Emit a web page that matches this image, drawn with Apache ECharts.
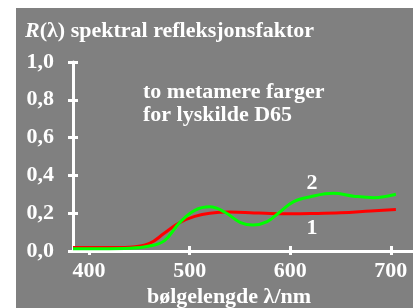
<!DOCTYPE html>
<html>
<head>
<meta charset="utf-8">
<script src="https://cdn.jsdelivr.net/npm/echarts@6/dist/echarts.min.js"></script>
<style>
  html, body { margin: 0; padding: 0; background: #fff; }
  #main { position: absolute; left: 16px; top: 8px; width: 397px; height: 300px; background: #808080; }
</style>
</head>
<body>
<div id="main"></div>
<script>
// wavelength ticks (nm) and reflectance ticks
const xTicks = [400, 500, 600, 700];
const yTicks = [0, 0.2, 0.4, 0.6, 0.8, 1.0];

// curve 1 (red): [wavelength, R]
const curve1 = [
  [384, 0.018], [420, 0.018], [440, 0.02], [460, 0.04], [475, 0.095],
  [490, 0.15], [505, 0.183], [520, 0.2], [540, 0.206], [560, 0.203],
  [580, 0.198], [600, 0.197], [620, 0.198], [650, 0.202], [680, 0.212],
  [705, 0.22]
];
// curve 2 (green)
const curve2 = [
  [384, 0.012], [420, 0.012], [440, 0.014], [460, 0.026], [475, 0.055],
  [490, 0.15], [505, 0.215], [520, 0.234], [535, 0.205], [550, 0.152],
  [563, 0.137], [577, 0.155], [590, 0.208], [603, 0.26], [620, 0.287],
  [643, 0.305], [663, 0.29], [683, 0.282], [705, 0.3]
];

const font = "Liberation Serif";
const white = "#ffffff";
const fs = 22;

let chart = echarts.init(document.getElementById("main"));
let option = {
  animation: false,
  title: {
    left: 4,
    top: 7,
    text: "{i|R}(λ) spektral refleksjonsfaktor",
    textStyle: {
      color: white, fontFamily: font, fontWeight: "bold", fontSize: fs,
      rich: {
        i: { color: white, fontFamily: font, fontWeight: "bold", fontStyle: "italic", fontSize: fs }
      }
    }
  },
  grid: { left: 57, top: 54, right: 0, bottom: 57 },
  xAxis: [
    {
      type: "value", min: 384, max: 722,
      axisLine: { lineStyle: { color: white, width: 3 } },
      splitLine: { show: false },
      axisTick: { customValues: xTicks, inside: true, length: 5, lineStyle: { color: white, width: 3 } },
      axisLabel: {
        customValues: xTicks, margin: 9, color: white,
        fontFamily: font, fontWeight: "bold", fontSize: fs
      }
    },
    {
      type: "value", min: 384, max: 722, position: "bottom",
      axisLine: { show: false },
      splitLine: { show: false },
      axisTick: { customValues: xTicks, inside: false, length: 4, lineStyle: { color: white, width: 3 } },
      axisLabel: { show: false }
    }
  ],
  yAxis: [
    {
      type: "value", min: 0, max: 1,
      axisLine: { show: true, lineStyle: { color: white, width: 3 } },
      splitLine: { show: false },
      axisTick: { customValues: yTicks, inside: true, length: 5, lineStyle: { color: white, width: 3 } },
      axisLabel: {
        customValues: yTicks, margin: 19, color: white,
        fontFamily: font, fontWeight: "bold", fontSize: fs,
        formatter: function (v) { return v.toFixed(1).replace(".", ","); }
      }
    },
    {
      type: "value", min: 0, max: 1, position: "left",
      axisLine: { show: false },
      splitLine: { show: false },
      axisTick: { show: true, customValues: yTicks, inside: false, length: 5, lineStyle: { color: white, width: 3 } },
      axisLabel: { show: false }
    }
  ],
  graphic: [
    {
      type: "text", x: 127, y: 84,
      style: { text: "to metamere farger", fill: white, font: "bold " + fs + "px " + font, verticalAlign: "middle" }
    },
    {
      type: "text", x: 127, y: 107,
      style: { text: "for lyskilde D65", fill: white, font: "bold " + fs + "px " + font, verticalAlign: "middle" }
    },
    {
      type: "text", x: 213, y: 289,
      style: { text: "bølgelengde λ/nm", fill: white, font: "bold " + fs + "px " + font, align: "center", verticalAlign: "middle" }
    },
    {
      type: "text", x: 296, y: 175,
      style: { text: "2", fill: white, font: "bold " + fs + "px " + font, align: "center", verticalAlign: "middle" }
    },
    {
      type: "text", x: 296, y: 220,
      style: { text: "1", fill: white, font: "bold " + fs + "px " + font, align: "center", verticalAlign: "middle" }
    }
  ],
  series: [
    {
      type: "line", data: curve1, smooth: 0.4, symbol: "none",
      lineStyle: { color: "#ff0000", width: 3 }
    },
    {
      type: "line", data: curve2, smooth: 0.4, symbol: "none",
      lineStyle: { color: "#00ff00", width: 3 }
    }
  ]
};
option && chart.setOption(option);
</script>
</body>
</html>
